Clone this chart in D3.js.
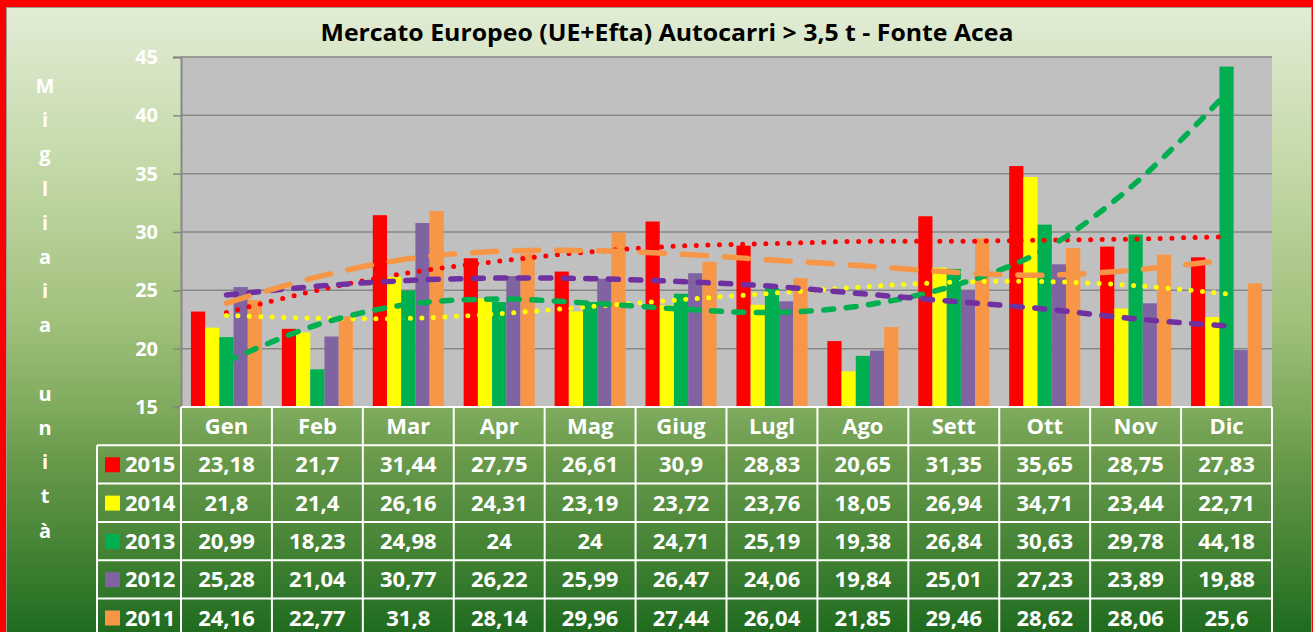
<!DOCTYPE html>
<html lang="it">
<head>
    <meta charset="UTF-8">
    <script src="https://cdn.jsdelivr.net/npm/d3@7"></script>
    <title>Mercato Europeo Autocarri</title>
    <style>
        body {
            margin: 0;
            overflow: hidden;
            background: white;
        }
        text {
            font-family: "Open Sans", "DejaVu Sans", sans-serif;
            font-weight: bold;
        }
    </style>
</head>
<body>
    <div id="chart"></div>
    <script>
        /*------------------- data --------------------*/
        const months = ["Gen", "Feb", "Mar", "Apr", "Mag", "Giug", "Lugl", "Ago", "Sett", "Ott", "Nov", "Dic"];
        const years = ["2015", "2014", "2013", "2012", "2011"];

        const v2015 = [23.18, 21.7, 31.44, 27.75, 26.61, 30.9, 28.83, 20.65, 31.35, 35.65, 28.75, 27.83];
        const v2014 = [21.8, 21.4, 26.16, 24.31, 23.19, 23.72, 23.76, 18.05, 26.94, 34.71, 23.44, 22.71];
        const v2013 = [20.99, 18.23, 24.98, 24, 24, 24.71, 25.19, 19.38, 26.84, 30.63, 29.78, 44.18];
        const v2012 = [25.28, 21.04, 30.77, 26.22, 25.99, 26.47, 24.06, 19.84, 25.01, 27.23, 23.89, 19.88];
        const v2011 = [24.16, 22.77, 31.8, 28.14, 29.96, 27.44, 26.04, 21.85, 29.46, 28.62, 28.06, 25.6];

        // trend lines at each month
        const t2015 = [23.1, 25.0, 26.5, 27.5, 28.3, 28.8, 29.0, 29.2, 29.2, 29.3, 29.4, 29.6];
        const t2014 = [22.85, 22.6, 22.6, 23.0, 23.6, 24.2, 24.75, 25.3, 25.7, 25.75, 25.4, 24.7];
        const t2013 = [18.9, 22.05, 23.8, 24.25, 23.9, 23.4, 23.1, 23.7, 25.4, 28.5, 34.2, 41.9];
        const t2012 = [24.6, 25.35, 25.85, 26.05, 26.0, 25.75, 25.35, 24.7, 24.05, 23.4, 22.55, 21.95];
        const t2011 = [23.9, 26.15, 27.7, 28.35, 28.4, 28.1, 27.6, 27.1, 26.55, 26.3, 26.75, 27.6];

        const yTicks = [15, 20, 25, 30, 35, 40, 45];
        const title = "Mercato Europeo (UE+Efta) Autocarri > 3,5 t - Fonte Acea";
        const yLabel = ["M", "i", "g", "l", "i", "a", "i", "a", "", "u", "n", "i", "t", "à"];

        const values = [v2015, v2014, v2013, v2012, v2011];
        const trends = [t2015, t2014, t2013, t2012, t2011];
        const barColors = ["#ff0000", "#ffff00", "#00b050", "#8064a2", "#f79646"];
        const trendStyles = [
            {color: "#ff0000", width: 5, dash: "0 11.6"},
            {color: "#ffff00", width: 5, dash: "0 11.5"},
            {color: "#00b050", width: 5.5, dash: "10 12.5"},
            {color: "#7030a0", width: 5.5, dash: "10 12.5"},
            {color: "#f79646", width: 5.5, dash: "24 18"}
        ];

        /*------------------- layout --------------------*/
        const W = 1313, H = 632;
        const plot = {left: 181, right: 1272, top: 57, bottom: 407};
        const rowH = 38.3;
        const legendLeft = 97;

        const svg = d3.select("#chart").append("svg")
            .attr("width", W)
            .attr("height", H);

        const grad = svg.append("defs").append("linearGradient")
            .attr("id", "bg")
            .attr("x1", 0).attr("y1", 0).attr("x2", 0).attr("y2", 1);
        [[0, "#e2ecd6"], [0.25, "#c4d9a8"], [0.5, "#a0c07b"], [0.64, "#7eaa5c"], [0.72, "#68994b"],
         [0.83, "#4c8839"], [0.95, "#2b7326"], [1, "#1d691d"]]
            .forEach(s => grad.append("stop").attr("offset", s[0]).attr("stop-color", s[1]));

        // red frame and background
        svg.append("rect").attr("width", W).attr("height", H).attr("fill", "#ff0000");
        svg.append("rect")
            .attr("x", 6.5).attr("y", 7.5)
            .attr("width", 1305).attr("height", 630)
            .attr("fill", "url(#bg)")
            .attr("stroke", "#9a9a9a").attr("stroke-width", 1);

        // title
        svg.append("text")
            .attr("x", 667).attr("y", 41)
            .attr("text-anchor", "middle")
            .attr("font-size", 24)
            .attr("textLength", 693)
            .attr("lengthAdjust", "spacingAndGlyphs")
            .attr("fill", "black")
            .text(title);

        // vertical axis label
        svg.append("g").selectAll("text")
            .data(yLabel)
            .join("text")
            .attr("x", 45)
            .attr("y", (d, i) => 86 + 34.2 * i)
            .attr("dy", "0.35em")
            .attr("text-anchor", "middle")
            .attr("font-size", 20)
            .attr("fill", "white")
            .text(d => d);

        /*------------------- scales --------------------*/
        const x = d3.scaleBand().domain(months).range([plot.left, plot.right]);
        const x1 = d3.scaleBand().domain(years).range([0, x.bandwidth()]).paddingOuter(0.7);
        const y = d3.scaleLinear().domain([15, 45]).range([plot.bottom, plot.top]);

        // plot area
        svg.append("rect")
            .attr("x", plot.left).attr("y", plot.top)
            .attr("width", plot.right - plot.left).attr("height", plot.bottom - plot.top)
            .attr("fill", "#c0c0c0");

        svg.append("g").selectAll("line")
            .data(yTicks)
            .join("line")
            .attr("x1", plot.left).attr("x2", plot.right)
            .attr("y1", d => y(d)).attr("y2", d => y(d))
            .attr("stroke", "#878787").attr("stroke-width", 1.5);

        const yAxis = svg.append("g")
            .attr("transform", `translate(${plot.left},0)`)
            .call(d3.axisLeft(y).tickValues(yTicks).tickSize(8).tickPadding(15));
        yAxis.select(".domain").attr("stroke", "#878787").attr("stroke-width", 2);
        yAxis.selectAll(".tick line").attr("stroke", "#878787").attr("stroke-width", 1.5);
        yAxis.selectAll(".tick text")
            .attr("font-size", 20)
            .attr("font-family", "'Open Sans', sans-serif")
            .attr("font-weight", "bold")
            .attr("fill", "white");

        /*------------------- bars --------------------*/
        const groups = svg.append("g").selectAll("g")
            .data(months)
            .join("g")
            .attr("transform", d => `translate(${x(d)},0)`);

        groups.selectAll("rect")
            .data((m, i) => years.map((yr, s) => ({yr: yr, s: s, v: values[s][i]})))
            .join("rect")
            .attr("x", d => x1(d.yr))
            .attr("width", x1.bandwidth())
            .attr("y", d => y(d.v))
            .attr("height", d => y(15) - y(d.v))
            .attr("fill", d => barColors[d.s]);

        /*------------------- trend lines --------------------*/
        const trendLine = d3.line()
            .x((d, i) => x(months[i]) + x.bandwidth() / 2)
            .y(d => y(d))
            .curve(d3.curveCatmullRom);

        svg.append("g").selectAll("path")
            .data(trends)
            .join("path")
            .attr("d", d => trendLine(d))
            .attr("fill", "none")
            .attr("stroke", (d, i) => trendStyles[i].color)
            .attr("stroke-width", (d, i) => trendStyles[i].width)
            .attr("stroke-dasharray", (d, i) => trendStyles[i].dash)
            .attr("stroke-linecap", "round");

        /*------------------- data table --------------------*/
        const table = svg.append("g");
        const rowTop = i => plot.bottom + rowH * (i + 1);
        const tableBottom = H + 10;
        const fs = 22;

        // header labels
        table.selectAll(".month")
            .data(months)
            .join("text")
            .attr("class", "month")
            .attr("x", d => x(d) + x.bandwidth() / 2)
            .attr("y", plot.bottom + rowH / 2)
            .attr("dy", "0.36em")
            .attr("text-anchor", "middle")
            .attr("font-size", fs)
            .attr("fill", "white")
            .text(d => d);

        // values
        years.forEach((yr, s) => {
            const top = rowTop(s);
            table.append("rect")
                .attr("x", 105).attr("y", top + 12)
                .attr("width", 15).attr("height", 15)
                .attr("fill", barColors[s]);
            table.append("text")
                .attr("x", 125).attr("y", top + rowH / 2)
                .attr("dy", "0.36em")
                .attr("font-size", fs)
                .attr("fill", "white")
                .text(yr);
            table.selectAll(".v" + yr)
                .data(values[s])
                .join("text")
                .attr("x", (d, i) => x(months[i]) + x.bandwidth() / 2)
                .attr("y", top + rowH / 2)
                .attr("dy", "0.36em")
                .attr("text-anchor", "middle")
                .attr("font-size", fs)
                .attr("fill", "white")
                .text(d => String(d).replace(".", ","));
        });

        // grid of the table
        const hLines = [{y: plot.bottom, x1: plot.left}];
        for (let i = 0; i < years.length; i++) hLines.push({y: rowTop(i), x1: legendLeft});
        table.selectAll(".hl")
            .data(hLines)
            .join("line")
            .attr("x1", d => d.x1).attr("x2", plot.right)
            .attr("y1", d => d.y).attr("y2", d => d.y)
            .attr("stroke", "white").attr("stroke-width", 2);

        const vLines = months.map(m => x(m)).concat([plot.right]);
        table.selectAll(".vl")
            .data(vLines)
            .join("line")
            .attr("x1", d => d).attr("x2", d => d)
            .attr("y1", plot.bottom).attr("y2", tableBottom)
            .attr("stroke", "white").attr("stroke-width", 2);
        table.append("line")
            .attr("x1", legendLeft).attr("x2", legendLeft)
            .attr("y1", rowTop(0)).attr("y2", tableBottom)
            .attr("stroke", "white").attr("stroke-width", 2);
    </script>
</body>
</html>
